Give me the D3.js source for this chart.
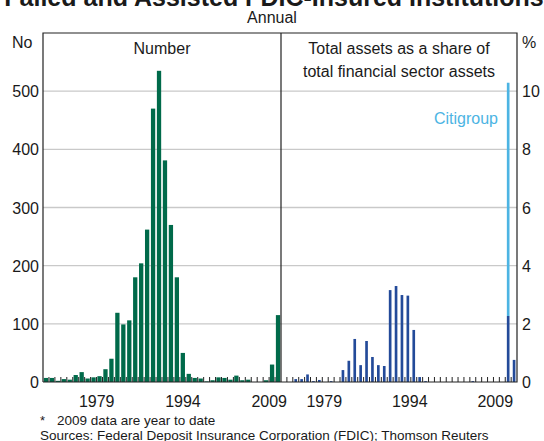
<!DOCTYPE html>
<html>
<head>
<meta charset="utf-8">
<script src="https://cdn.jsdelivr.net/npm/d3@7"></script>
<style>
  body { margin: 0; background: #fff; }
  text { font-family: "Liberation Sans", Arial, sans-serif; fill: #1a1a1a; }
</style>
</head>
<body>
<div id="chart"></div>
<script>
// data
const years = [1970, 1971, 1972, 1973, 1974, 1975, 1976, 1977, 1978, 1979,
               1980, 1981, 1982, 1983, 1984, 1985, 1986, 1987, 1988, 1989,
               1990, 1991, 1992, 1993, 1994, 1995, 1996, 1997, 1998, 1999,
               2000, 2001, 2002, 2003, 2004, 2005, 2006, 2007, 2008, 2009];

const failedCount = [7, 7, 2, 5, 4, 12, 17, 6, 8, 10,
                     22, 40, 119, 99, 106, 180, 204, 262, 470, 535,
                     381, 270, 180, 50, 14, 7, 6, 1, 3, 8,
                     7, 4, 11, 3, 4, 0, 0, 3, 30, 115];

const assetShare = [0, 0, 0.10, 0.10, 0.26, 0.03, 0.07, 0, 0.03, 0,
                    0.41, 0.73, 1.48, 0.58, 1.41, 0.86, 0.58, 0.55, 3.16, 3.30,
                    2.99, 2.97, 1.79, 0.17, 0.03, 0, 0, 0, 0, 0,
                    0, 0, 0.03, 0, 0, 0, 0, 0, 2.27, 0.76];

const citigroupShare = [0, 0, 0, 0, 0, 0, 0, 0, 0, 0,
                        0, 0, 0, 0, 0, 0, 0, 0, 0, 0,
                        0, 0, 0, 0, 0, 0, 0, 0, 0, 0,
                        0, 0, 0, 0, 0, 0, 0, 0, 8.02, 0];

const countTicks = [0, 100, 200, 300, 400, 500];
const shareTicks = [0, 2, 4, 6, 8, 10];
const yearLabels = [1979, 1994, 2009];

const width = 544, height = 441;
const plotL = 43, plotMid = 281, plotR = 517, plotT = 33, plotB = 382;

const green = '#006a4a', navy = '#234a99', sky = '#4cb4e3', grid = '#c9c9c9';

let svg = d3.select('#chart').append('svg')
  .attr('width', width)
  .attr('height', height);

let yCount = d3.scaleLinear().domain([0, 600]).range([plotB, plotT]);
let yShare = d3.scaleLinear().domain([0, 12]).range([plotB, plotT]);

let xLeft = d3.scaleBand().domain(years).range([plotL, plotMid]).paddingInner(0.28).paddingOuter(0.14);
let xRight = d3.scaleBand().domain(years).range([plotMid, plotR]).paddingInner(0.55).paddingOuter(0.27);

// labels sit a little left of their bars, drifting further left along the axis
const labelX = (x, yr, shift) => x(yr) + x.bandwidth() / 2 - (yr - years[0]) * 0.2 - shift;

// gridlines
svg.append('g')
  .selectAll('line')
  .data(countTicks.slice(1))
  .enter()
  .append('line')
  .attr('x1', plotL).attr('x2', plotR)
  .attr('y1', d => yCount(d)).attr('y2', d => yCount(d))
  .attr('stroke', grid).attr('stroke-width', 1.3);

// left panel: number of institutions
svg.append('g')
  .selectAll('rect')
  .data(years)
  .enter()
  .append('rect')
  .attr('x', d => xLeft(d))
  .attr('width', xLeft.bandwidth())
  .attr('y', (d, i) => yCount(failedCount[i]))
  .attr('height', (d, i) => plotB - yCount(failedCount[i]))
  .attr('fill', green);

// right panel: share of assets, Citigroup stacked on top
svg.append('g')
  .selectAll('rect')
  .data(years)
  .enter()
  .append('rect')
  .attr('x', d => xRight(d))
  .attr('width', xRight.bandwidth())
  .attr('y', (d, i) => yShare(assetShare[i]))
  .attr('height', (d, i) => plotB - yShare(assetShare[i]))
  .attr('fill', navy);

svg.append('g')
  .selectAll('rect')
  .data(years.filter((d, i) => citigroupShare[i] > 0))
  .enter()
  .append('rect')
  .attr('x', d => xRight(d))
  .attr('width', xRight.bandwidth())
  .attr('y', d => {
    let i = years.indexOf(d);
    return yShare(assetShare[i] + citigroupShare[i]);
  })
  .attr('height', d => {
    let i = years.indexOf(d);
    return yShare(assetShare[i]) - yShare(assetShare[i] + citigroupShare[i]);
  })
  .attr('fill', sky);

// small year ticks on the baseline
const tickG = svg.append('g').attr('stroke', '#222').attr('stroke-width', 1);
[xLeft, xRight].forEach(x => {
  let step = x.step();
  let x0 = x.range()[0];
  tickG.selectAll(null)
    .data(years.slice(1))
    .enter()
    .append('line')
    .attr('x1', (d, i) => x0 + (i + 1) * step)
    .attr('x2', (d, i) => x0 + (i + 1) * step)
    .attr('y1', plotB).attr('y2', plotB - 5);
});

// frame
svg.append('path')
  .attr('d', `M${plotL},${plotB}V${plotT}H${plotR}V${plotB}H${plotL}M${plotMid},${plotT}V${plotB}`)
  .attr('fill', 'none')
  .attr('stroke', '#222')
  .attr('stroke-width', 1.2);

// axis labels
svg.append('g')
  .selectAll('text')
  .data(countTicks)
  .enter()
  .append('text')
  .attr('x', plotL - 4)
  .attr('y', d => yCount(d) + 6)
  .attr('text-anchor', 'end')
  .style('font-size', '16px')
  .text(d => d);

svg.append('g')
  .selectAll('text')
  .data(shareTicks)
  .enter()
  .append('text')
  .attr('x', plotR + 5)
  .attr('y', d => yShare(d) + 6)
  .style('font-size', '16px')
  .text(d => d);

svg.append('g')
  .selectAll('text')
  .data(yearLabels)
  .enter()
  .append('text')
  .attr('x', d => labelX(xLeft, d, 1))
  .attr('y', 407)
  .attr('text-anchor', 'middle')
  .style('font-size', '16px')
  .text(d => d);

svg.append('g')
  .selectAll('text')
  .data(yearLabels)
  .enter()
  .append('text')
  .attr('x', d => labelX(xRight, d, 11))
  .attr('y', 407)
  .attr('text-anchor', 'middle')
  .style('font-size', '16px')
  .text(d => d);

// titles
svg.append('text')
  .attr('x', width / 2 + 2).attr('y', 6)
  .attr('text-anchor', 'middle')
  .style('font-size', '25px').style('font-weight', 'bold')
  .text('Failed and Assisted FDIC-Insured Institutions');

svg.append('text')
  .attr('x', width / 2).attr('y', 23)
  .attr('text-anchor', 'middle')
  .style('font-size', '16px')
  .text('Annual');

svg.append('text').attr('x', 12).attr('y', 48).style('font-size', '16px').text('No');
svg.append('text').attr('x', 522).attr('y', 48).style('font-size', '16px').text('%');

svg.append('text')
  .attr('x', (plotL + plotMid) / 2).attr('y', 54)
  .attr('text-anchor', 'middle')
  .style('font-size', '16px')
  .text('Number');

svg.append('text')
  .attr('x', (plotMid + plotR) / 2).attr('y', 54)
  .attr('text-anchor', 'middle')
  .style('font-size', '16px')
  .text('Total assets as a share of');

svg.append('text')
  .attr('x', (plotMid + plotR) / 2).attr('y', 77)
  .attr('text-anchor', 'middle')
  .style('font-size', '16px')
  .text('total financial sector assets');

svg.append('text')
  .attr('x', 498).attr('y', 124)
  .attr('text-anchor', 'end')
  .style('font-size', '16px')
  .style('fill', sky)
  .text('Citigroup');

// notes
svg.append('text').attr('x', 40).attr('y', 424.5).style('font-size', '13px').text('*');
svg.append('text').attr('x', 57).attr('y', 424.5).style('font-size', '13.5px').text('2009 data are year to date');
svg.append('text').attr('x', 40).attr('y', 439.5).style('font-size', '13.5px')
  .text('Sources: Federal Deposit Insurance Corporation (FDIC); Thomson Reuters');
</script>
</body>
</html>
